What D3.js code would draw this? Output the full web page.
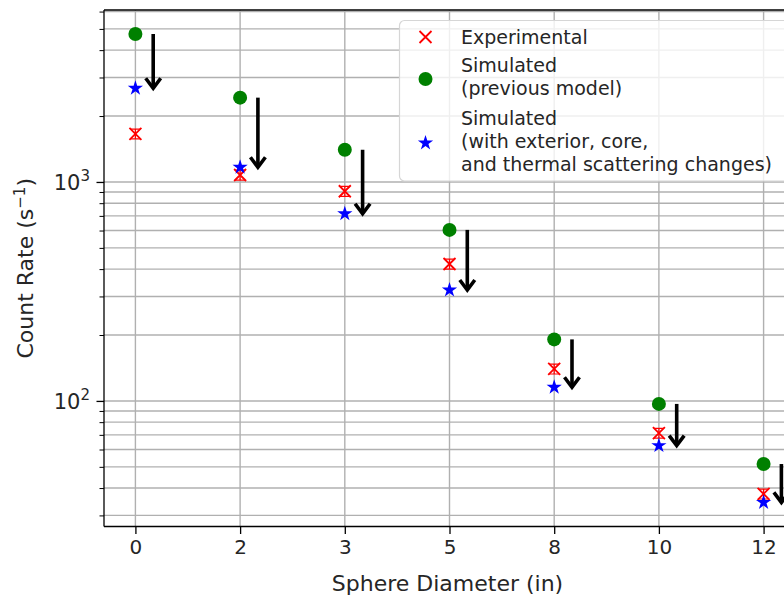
<!DOCTYPE html>
<html>
<head>
<meta charset="utf-8">
<script src="https://cdn.jsdelivr.net/npm/d3@7"></script>
<style>
  body { margin: 0; background: #fff; }
  text { font-family: "DejaVu Sans", sans-serif; fill: #262626; }
</style>
</head>
<body>
<div id="chart"></div>
<script>
// data
var diameters = ["0", "2", "3", "5", "8", "10", "12"];
var experimental = [1657, 1076, 907, 422, 140, 71.3, 37.6];
var expErr = [85, 56, 47, 22, 7.3, 3.7, 1.95];
var simPrevious = [4740, 2427, 1403, 604, 191, 96.9, 51.5];
var simNew = [2680, 1167, 716, 321, 115.5, 62.5, 34.4];
var yMajorTicks = [100, 1000];

var W = 784, H = 599;
var margin = {top: 10, left: 104, bottom: 72.5};
var plotRight = 795;

var svg = d3.select("#chart").append("svg")
    .attr("width", W)
    .attr("height", H);

var x = d3.scalePoint()
    .domain(diameters)
    .range([margin.left, plotRight])
    .padding(0.3);

var y = d3.scaleLog()
    .domain([26.7, 6100])
    .range([H - margin.bottom, margin.top]);

var bottom = H - margin.bottom;

// all log ticks (minor + major) inside the domain
var allTicks = y.ticks().filter(function(t) { return t >= 26.7 && t <= 6100; });

// grid
var grid = svg.append("g").attr("stroke", "#b0b0b0").attr("stroke-width", 1.4);
grid.selectAll(".hg").data(allTicks).enter().append("line")
    .attr("x1", margin.left).attr("x2", plotRight)
    .attr("y1", function(d) { return y(d); })
    .attr("y2", function(d) { return y(d); });
grid.selectAll(".vg").data(diameters).enter().append("line")
    .attr("y1", margin.top).attr("y2", bottom)
    .attr("x1", function(d) { return x(d); })
    .attr("x2", function(d) { return x(d); });

// x axis
var xAxis = svg.append("g")
    .attr("transform", "translate(0," + bottom + ")")
    .call(d3.axisBottom(x).tickSize(7.5).tickPadding(6));
xAxis.select(".domain").remove();
xAxis.selectAll(".tick line").attr("stroke", "#000").attr("stroke-width", 1.3);
xAxis.selectAll(".tick text")
    .style("font-family", "DejaVu Sans")
    .style("font-size", "20px")
    .attr("fill", "#262626");

// y axis: minor ticks
var minor = allTicks.filter(function(t) { return yMajorTicks.indexOf(t) < 0; });
var yMinor = svg.append("g")
    .attr("transform", "translate(" + margin.left + ",0)")
    .call(d3.axisLeft(y).tickValues(minor).tickSize(4.5).tickFormat(""));
yMinor.select(".domain").remove();
yMinor.selectAll(".tick line").attr("stroke", "#000").attr("stroke-width", 1);

var yMajor = svg.append("g")
    .attr("transform", "translate(" + margin.left + ",0)")
    .call(d3.axisLeft(y).tickValues(yMajorTicks).tickSize(7.5).tickFormat(""));
yMajor.select(".domain").remove();
yMajor.selectAll(".tick line").attr("stroke", "#000").attr("stroke-width", 1.3);

yMajor.selectAll(".tick").each(function(d) {
  var t = d3.select(this).append("text")
      .attr("x", -14)
      .attr("y", 7.5)
      .attr("text-anchor", "end")
      .style("font-size", "21px")
      .attr("fill", "#262626");
  t.append("tspan").text("10");
  t.append("tspan")
      .attr("dy", -9)
      .style("font-size", "15px")
      .text(String(Math.round(Math.log10(d))));
});

// spines
var spines = svg.append("g").attr("stroke", "#000").attr("stroke-width", 1.3).attr("fill", "none");
spines.append("line").attr("x1", margin.left).attr("x2", margin.left).attr("y1", margin.top).attr("y2", bottom);
spines.append("line").attr("x1", margin.left).attr("x2", plotRight).attr("y1", bottom).attr("y2", bottom);
spines.append("line").attr("x1", margin.left).attr("x2", plotRight).attr("y1", margin.top).attr("y2", margin.top);

// axis labels
svg.append("text")
    .attr("x", (margin.left + plotRight) / 2 - 2)
    .attr("y", 591)
    .attr("text-anchor", "middle")
    .style("font-size", "22px")
    .text("Sphere Diameter (in)");

var yl = svg.append("text")
    .attr("transform", "translate(33," + ((margin.top + bottom) / 2) + ") rotate(-90)")
    .attr("text-anchor", "middle")
    .style("font-size", "22px");
yl.append("tspan").text("Count Rate (s");
yl.append("tspan").attr("dy", -8).style("font-size", "15px").text("\u22121");
yl.append("tspan").attr("dy", 8).text(")");

// markers
var star = d3.symbol().type(d3.symbolStar).size(72);

function drawX(g, cx, cy, r) {
  g.append("path")
      .attr("d", "M" + (cx - r) + "," + (cy - r) + "L" + (cx + r) + "," + (cy + r) +
                 "M" + (cx - r) + "," + (cy + r) + "L" + (cx + r) + "," + (cy - r))
      .attr("stroke", "red").attr("stroke-width", 1.8).attr("fill", "none");
}

var marks = svg.append("g");

// experimental with error bars
diameters.forEach(function(d, i) {
  var cx = x(d);
  var y0 = y(experimental[i] + expErr[i]), y1 = y(experimental[i] - expErr[i]);
  marks.append("path")
      .attr("d", "M" + cx + "," + y0 + "V" + y1 +
                 "M" + (cx - 5) + "," + y0 + "H" + (cx + 5) +
                 "M" + (cx - 5) + "," + y1 + "H" + (cx + 5))
      .attr("stroke", "red").attr("stroke-width", 1.2).attr("fill", "none");
  drawX(marks, cx, y(experimental[i]), 6);
});

marks.selectAll(".prev").data(simPrevious).enter().append("circle")
    .attr("cx", function(d, i) { return x(diameters[i]); })
    .attr("cy", function(d) { return y(d); })
    .attr("r", 7)
    .attr("fill", "green");

marks.selectAll(".new").data(simNew).enter().append("path")
    .attr("d", star)
    .attr("transform", function(d, i) { return "translate(" + x(diameters[i]) + "," + y(d) + ")"; })
    .attr("fill", "blue");

// arrows from previous model to new model
var arrows = svg.append("g")
    .attr("stroke", "#000").attr("stroke-width", 3.6).attr("fill", "none")
    .attr("stroke-linejoin", "miter");
diameters.forEach(function(d, i) {
  var ax = x(d) + x.step() * 0.17;
  var yt = y(simPrevious[i]), yb = y(simNew[i]);
  arrows.append("path").attr("d", "M" + ax + "," + yt + "V" + (yb - 1));
  arrows.append("path").attr("d", "M" + (ax - 7.5) + "," + (yb - 10) + "L" + ax + "," + yb + "L" + (ax + 7.5) + "," + (yb - 10));
});

// legend
var lg = svg.append("g");
lg.append("rect")
    .attr("x", 399.5).attr("y", 20.5)
    .attr("width", 420).attr("height", 160.5)
    .attr("rx", 5)
    .attr("fill", "#fff").attr("fill-opacity", 0.8)
    .attr("stroke", "#d6d6d6").attr("stroke-width", 1.2);

drawX(lg, 425.5, 37, 6);
lg.append("circle").attr("cx", 425.5).attr("cy", 79).attr("r", 7).attr("fill", "green");
lg.append("path").attr("d", star).attr("transform", "translate(425.5,143)").attr("fill", "blue");

var legendLines = [
  ["Experimental", 44],
  ["Simulated", 72],
  ["(previous model)", 95],
  ["Simulated", 125],
  ["(with exterior, core,", 148],
  ["and thermal scattering changes)", 171]
];
lg.selectAll(".lt").data(legendLines).enter().append("text")
    .attr("x", 461)
    .attr("y", function(d) { return d[1]; })
    .style("font-size", "19px")
    .text(function(d) { return d[0]; });
</script>
</body>
</html>
